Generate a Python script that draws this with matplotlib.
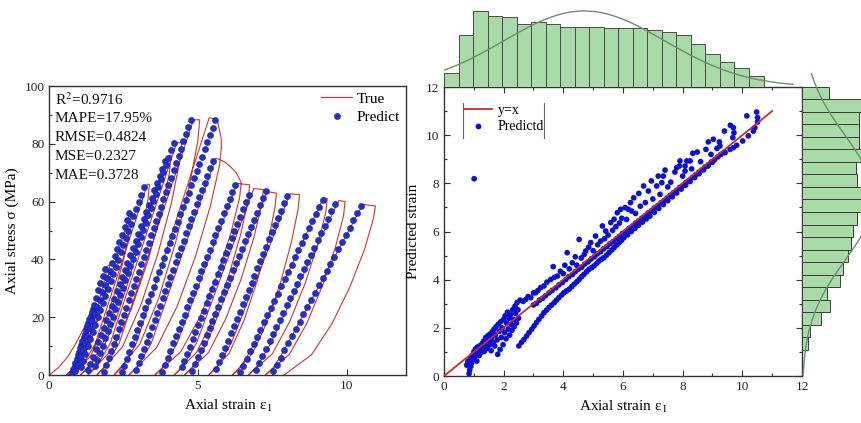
import matplotlib
matplotlib.use('Agg')
import matplotlib.pyplot as plt
from matplotlib.lines import Line2D
from matplotlib.ticker import MultipleLocator
import numpy as np

plt.rcParams['font.family'] = ['Liberation Serif', 'DejaVu Serif']
plt.rcParams['mathtext.fontset'] = 'stix'
plt.rcParams['font.size'] = 11

RED = '#c8372d'
BLUE = '#1f2fd0'
BLUE_EDGE = '#12128a'
GREEN = '#a9dba9'
SPINE = '#333333'

# ---------------- measured stress-strain path (cyclic loading), (strain, stress) ----------------
true_c01 = [(0, 0), (0.3, 2.5), (0.6, 6), (0.9, 11), (1.2, 17), (1.55, 24), (1.6, 24),
            (1.58, 22.1), (1.48, 17.8), (1.31, 12.5), (1.11, 7.2), (0.88, 2.9), (0.57, 0)]
true_c02 = [(0.82, 2.5), (1.07, 6.5), (1.32, 11), (1.98, 38), (2.03, 38),
            (2.0, 35), (1.86, 28.1), (1.64, 19.8), (1.36, 11.4), (1.05, 4.6), (0.63, 0)]
true_c03 = [(0.88, 2.5), (1.13, 6.5), (1.38, 11), (2.70, 55.4), (2.76, 55.2),
            (2.72, 50.8), (2.52, 40.8), (2.21, 28.7), (1.82, 16.6), (1.39, 6.6), (0.8, 0)]
true_c04 = [(1.05, 2.5), (1.3, 6.5), (1.55, 11), (3.3, 66), (3.37, 66),
            (3.32, 60.7), (3.09, 48.8), (2.72, 34.3), (2.26, 19.8), (1.75, 7.9), (1.05, 0)]
true_c05 = [(1.3, 2.5), (1.55, 6.5), (1.8, 11), (4.02, 76), (4.1, 76),
            (4.04, 69.9), (3.76, 56.2), (3.32, 39.5), (2.76, 22.8), (2.14, 9.1), (1.3, 0)]
true_c06 = [(1.55, 2.5), (1.8, 6.5), (2.05, 11), (4.28, 80.2), (4.45, 80.5),
            (4.39, 74.1), (4.11, 59.6), (3.65, 41.9), (3.08, 24.2), (2.46, 9.7), (1.6, 0)]
true_c07 = [(1.85, 2.5), (2.1, 6.5), (2.35, 11), (4.85, 88.3), (5.06, 88.3),
            (5.0, 81.2), (4.71, 65.3), (4.25, 45.9), (3.68, 26.5), (3.04, 10.6), (2.18, 0)]
true_c08 = [(2.43, 2.5), (2.68, 6.5), (2.93, 11), (5.38, 89), (5.5, 88.8), (5.67, 87.3),
            (5.78, 82), (5.79, 79),
            (5.73, 72.7), (5.42, 58.5), (4.92, 41.1), (4.30, 23.7), (3.61, 9.5), (2.68, 0)]
true_c09 = [(2.93, 2.5), (3.18, 6.5), (3.43, 11), (5.6, 75), (5.75, 74.5), (5.9, 73.7),
            (6.1, 72), (6.29, 70), (6.46, 66.5),
            (6.4, 61.2), (6.11, 49.2), (5.65, 34.6), (5.06, 20), (4.42, 8), (3.55, 0)]
true_c10 = [(3.8, 2.5), (4.05, 6.5), (4.3, 11), (6.32, 66.3), (6.74, 65.8),
            (6.69, 60.5), (6.44, 48.7), (6.03, 34.2), (5.52, 19.7), (4.96, 7.9), (4.2, 0)]
true_c11 = [(4.45, 2.5), (4.7, 6.5), (4.95, 11), (6.88, 64.5), (7.2, 64.2),
            (7.15, 59.1), (6.88, 47.5), (6.46, 33.4), (5.93, 19.3), (5.35, 7.7), (4.55, 0)]
true_c12 = [(4.8, 2.5), (5.05, 6.5), (5.3, 11), (7.33, 63.5), (7.64, 62.9),
            (7.59, 57.9), (7.37, 46.5), (7.0, 32.7), (6.55, 18.9), (6.05, 7.5), (5.37, 0)]
true_c13 = [(5.62, 2.5), (5.87, 6.5), (6.12, 11), (8.1, 62.7), (8.42, 62.4),
            (8.37, 57.4), (8.15, 46.2), (7.79, 32.4), (7.34, 18.7), (6.84, 7.5), (6.16, 0)]
true_c14 = [(6.41, 2.5), (6.66, 6.5), (6.91, 11), (9.22, 61.3), (9.35, 61.1),
            (9.3, 56.2), (9.03, 45.2), (8.61, 31.8), (8.08, 18.3), (7.5, 7.3), (6.7, 0)]
true_c15 = [(6.95, 2.5), (7.2, 6.5), (7.45, 11), (9.74, 60.4), (9.95, 60.0),
            (9.9, 55.2), (9.63, 44.4), (9.2, 31.2), (8.67, 18), (8.08, 7.2), (7.28, 0)]
true_c16 = [(7.53, 2.5), (7.78, 6.5), (8.03, 11), (10.55, 59.0), (10.97, 58.5),
            (10.91, 54.4), (10.6, 43.3), (10.11, 30.4), (9.5, 17.6), (8.82, 7), (7.9, 0)]

# ---------------- predicted strain on the reloading branches ----------------
# each cycle was sampled on the same stress steps, shifted by its own start offset (MPa)
stress_levels = [0.8, 3, 5.5, 8, 10.5, 13, 15.5, 18, 20.5, 23, 25.5, 28, 30.5, 33, 35.5, 38,
                 40.5, 43, 45.5, 48, 50.5, 53, 55.5, 58, 60.5, 63, 65.5, 68, 70.5, 73, 75.5,
                 78, 80.5, 83, 85.5, 88]
stress_offsets = [0.0, 1.3, 0.6, 1.9, 0.9, 2.2, 0.3, 0.1, 1.0, 0.4, 1.8, 0.7, 1.4, 0.2, 1.1, 0.5]
pred_c01 = [0.78, 0.85, 0.93, 1.01, 1.08, 1.16, 1.24, 1.31, 1.39, 1.47]
pred_c02 = [0.81, 0.88, 0.96, 1.03, 1.11, 1.19, 1.26, 1.34, 1.42, 1.49, 1.57, 1.64, 1.72,
            1.80, 1.87]
pred_c03 = [0.88, 0.95, 1.03, 1.12, 1.20, 1.28, 1.36, 1.45, 1.53, 1.61, 1.70, 1.78, 1.86,
            1.95, 2.03, 2.11, 2.20, 2.28, 2.36, 2.44, 2.53, 2.61, 2.69]
pred_c04 = [1.05, 1.12, 1.21, 1.29, 1.38, 1.47, 1.55, 1.64, 1.72, 1.81, 1.89, 1.98, 2.06,
            2.15, 2.24, 2.32, 2.41, 2.49, 2.58, 2.66, 2.75, 2.83, 2.92, 3.01, 3.09, 3.18]
pred_c05 = [1.30, 1.38, 1.47, 1.56, 1.65, 1.74, 1.83, 1.92, 2.01, 2.10, 2.19, 2.28, 2.37,
            2.46, 2.55, 2.63, 2.72, 2.81, 2.90, 2.99, 3.08, 3.17, 3.26, 3.35, 3.44, 3.53,
            3.62, 3.71, 3.80, 3.89]
pred_c06 = [1.55, 1.62, 1.71, 1.79, 1.88, 1.96, 2.05, 2.13, 2.22, 2.30, 2.39, 2.48, 2.56,
            2.65, 2.73, 2.82, 2.90, 2.99, 3.07, 3.16, 3.24, 3.33, 3.41, 3.50, 3.58, 3.67,
            3.76, 3.84, 3.93, 4.01, 4.10, 4.18]
pred_c07 = [1.85, 1.92, 2.00, 2.09, 2.17, 2.25, 2.34, 2.42, 2.51, 2.59, 2.67, 2.76, 2.84,
            2.92, 3.01, 3.09, 3.17, 3.26, 3.34, 3.43, 3.51, 3.59, 3.68, 3.76, 3.84, 3.93,
            4.01, 4.09, 4.18, 4.26, 4.35, 4.43, 4.51, 4.60, 4.68, 4.76]
pred_c08 = [2.43, 2.51, 2.60, 2.69, 2.78, 2.87, 2.96, 3.05, 3.14, 3.23, 3.33, 3.42, 3.51,
            3.60, 3.69, 3.78, 3.87, 3.96, 4.05, 4.14, 4.23, 4.32, 4.41, 4.51, 4.60, 4.69,
            4.78, 4.87, 4.96, 5.05, 5.14, 5.23, 5.32, 5.41, 5.50, 5.59]
pred_c09 = [2.93, 3.01, 3.10, 3.18, 3.27, 3.36, 3.45, 3.54, 3.63, 3.72, 3.81, 3.90, 3.98,
            4.07, 4.16, 4.25, 4.34, 4.43, 4.52, 4.61, 4.70, 4.78, 4.87, 4.96, 5.05, 5.14,
            5.23, 5.32, 5.41, 5.50]
pred_c10 = [3.80, 3.88, 3.98, 4.07, 4.17, 4.26, 4.36, 4.45, 4.55, 4.64, 4.74, 4.83, 4.93,
            5.02, 5.12, 5.21, 5.31, 5.40, 5.50, 5.59, 5.69, 5.78, 5.88, 5.97, 6.07, 6.16, 6.26]
pred_c11 = [4.45, 4.53, 4.63, 4.72, 4.82, 4.91, 5.01, 5.10, 5.19, 5.29, 5.38, 5.48, 5.57,
            5.67, 5.76, 5.86, 5.95, 6.04, 6.14, 6.23, 6.33, 6.42, 6.52, 6.61, 6.71]
pred_c12 = [4.80, 4.89, 4.99, 5.09, 5.19, 5.29, 5.39, 5.49, 5.59, 5.69, 5.79, 5.89, 5.99,
            6.09, 6.19, 6.29, 6.39, 6.49, 6.59, 6.69, 6.79, 6.89, 6.99, 7.09, 7.19, 7.29]
pred_c13 = [5.62, 5.71, 5.81, 5.91, 6.01, 6.11, 6.21, 6.31, 6.41, 6.51, 6.61, 6.71, 6.81,
            6.90, 7.00, 7.10, 7.20, 7.30, 7.40, 7.50, 7.60, 7.70, 7.80, 7.90, 8.00]
pred_c14 = [6.42, 6.52, 6.64, 6.75, 6.87, 6.99, 7.10, 7.22, 7.33, 7.45, 7.57, 7.68, 7.80,
            7.92, 8.03, 8.15, 8.27, 8.38, 8.50, 8.61, 8.73, 8.85, 8.96, 9.08, 9.20]
pred_c15 = [6.96, 7.06, 7.17, 7.29, 7.41, 7.52, 7.64, 7.75, 7.87, 7.99, 8.10, 8.22, 8.33,
            8.45, 8.57, 8.68, 8.80, 8.91, 9.03, 9.14, 9.26, 9.38, 9.49, 9.61]
pred_c16 = [7.54, 7.65, 7.78, 7.91, 8.04, 8.17, 8.30, 8.43, 8.55, 8.68, 8.81, 8.94, 9.07,
            9.20, 9.33, 9.46, 9.58, 9.71, 9.84, 9.97, 10.10, 10.23, 10.36, 10.48]

metrics = ['R$^2$=0.9716', 'MAPE=17.95%', 'RMSE=0.4824', 'MSE=0.2327', 'MAE=0.3728']

# ---------------- true vs predicted strain ----------------
pts_low_left = [(0.76, 0.45), (0.80, 0.60), (0.84, 0.10), (0.86, 0.25), (0.88, 0.72), (0.90, 0.40),
                (0.93, 0.55), (0.95, 0.85), (0.98, 0.68), (1.00, 1.00), (1.03, 0.80), (1.05, 1.12),
                (1.08, 0.95), (1.10, 0.62), (1.12, 1.20), (1.15, 1.05), (1.18, 0.85), (1.20, 1.25),
                (1.22, 1.10), (1.25, 0.98), (1.28, 1.35), (1.30, 1.18), (1.33, 1.45), (1.35, 1.02),
                (1.38, 1.30), (1.40, 1.60), (1.43, 1.40), (1.45, 1.15), (1.48, 1.68), (1.50, 1.50),
                (1.53, 1.30), (1.55, 1.75), (1.58, 1.05), (1.60, 1.60), (1.63, 1.85), (1.65, 1.40),
                (1.68, 1.95), (1.70, 1.25), (1.72, 1.70), (1.75, 2.05), (1.78, 1.50), (1.80, 0.90),
                (1.82, 2.15), (1.85, 1.85), (1.88, 1.10), (1.90, 2.25), (1.92, 1.60), (1.95, 2.00),
                (1.98, 1.30), (2.00, 2.35), (2.03, 1.80), (2.05, 2.50), (2.08, 1.55), (2.10, 2.20),
                (2.13, 2.65), (2.15, 1.95), (2.18, 2.40), (2.20, 1.70), (2.23, 2.55), (2.25, 2.15),
                (2.28, 1.90), (2.30, 2.75), (2.33, 2.35), (2.35, 2.05), (2.38, 2.90), (2.40, 2.60),
                (2.43, 2.20), (2.45, 3.05), (2.48, 2.75), (2.50, 2.40)]
pts_lower_band = [(2.51, 1.25), (2.60, 1.40), (2.68, 1.52), (2.77, 1.66), (2.85, 1.80), (2.94, 1.94),
                  (3.02, 2.08), (3.10, 2.22), (3.18, 2.35), (3.27, 2.49), (3.35, 2.63), (3.44, 2.74),
                  (3.52, 2.84), (3.60, 2.94), (3.69, 3.04), (3.77, 3.15), (3.85, 3.25), (3.94, 3.36),
                  (4.02, 3.46), (4.10, 3.53), (4.19, 3.60), (4.28, 3.71), (4.36, 3.81), (4.45, 3.91),
                  (4.53, 4.01), (4.61, 4.12), (4.69, 4.22), (4.78, 4.33), (4.86, 4.43), (4.95, 4.50),
                  (5.03, 4.57), (5.12, 4.68), (5.20, 4.78), (5.28, 4.85), (5.36, 4.91), (5.45, 5.02),
                  (5.53, 5.12), (5.62, 5.23), (5.70, 5.33), (5.79, 5.44), (5.87, 5.54), (5.95, 5.64),
                  (6.03, 5.74), (6.15, 5.86), (6.28, 6.00), (6.40, 6.13), (6.52, 6.26), (6.65, 6.39),
                  (6.78, 6.52), (6.90, 6.64), (7.05, 6.80), (7.20, 6.96), (7.35, 7.12), (7.50, 7.28),
                  (7.65, 7.44), (7.80, 7.60), (7.95, 7.76), (8.10, 7.92), (8.25, 8.08), (8.40, 8.24),
                  (8.55, 8.40), (8.70, 8.56), (8.85, 8.72), (9.00, 8.88)]
pts_on_line = [(3.00, 2.95), (3.10, 3.02), (3.20, 3.15), (3.30, 3.22), (3.40, 3.33), (3.52, 3.45),
               (3.62, 3.55), (3.75, 3.66), (3.85, 3.78), (3.97, 3.88), (4.08, 4.00), (4.18, 4.12),
               (4.30, 4.21), (4.40, 4.33), (4.50, 4.43), (4.62, 4.52), (4.72, 4.65), (4.83, 4.74),
               (4.93, 4.86), (5.04, 4.95), (5.14, 5.07), (5.25, 5.16), (5.35, 5.28), (5.46, 5.37),
               (5.56, 5.49), (5.67, 5.58), (5.78, 5.70), (5.88, 5.80), (5.98, 5.92), (6.10, 6.01),
               (6.20, 6.13), (6.31, 6.22), (6.42, 6.35), (6.52, 6.44), (6.63, 6.55), (6.74, 6.65),
               (6.84, 6.77), (6.95, 6.86), (7.05, 6.98), (7.16, 7.07), (7.27, 7.19), (7.37, 7.28),
               (7.48, 7.40), (7.58, 7.50), (7.69, 7.61), (7.80, 7.71), (7.90, 7.83), (8.01, 7.92),
               (8.11, 8.04), (8.22, 8.13), (8.33, 8.25), (8.43, 8.35), (8.54, 8.46), (8.65, 8.56),
               (8.75, 8.68), (8.86, 8.77), (8.96, 8.89), (9.07, 8.98), (9.18, 9.10), (9.28, 9.20),
               (9.40, 9.30)]
pts_upper_band = [(2.55, 3.15), (2.65, 3.10), (2.74, 3.18), (2.82, 3.30), (2.91, 3.25), (3.00, 3.45),
                  (3.07, 3.46), (3.15, 3.55), (3.24, 3.67), (3.35, 3.74), (3.45, 3.90), (3.58, 4.01),
                  (3.66, 4.54), (3.70, 4.10), (3.80, 4.15), (3.90, 4.35), (4.00, 4.25), (4.05, 4.60),
                  (4.13, 5.12), (4.20, 4.45), (4.30, 4.70), (4.40, 4.95), (4.45, 4.60), (4.53, 5.67),
                  (4.60, 4.90), (4.70, 5.05), (4.75, 5.19), (4.85, 5.35), (4.92, 5.54), (5.00, 5.20),
                  (5.08, 5.81), (5.15, 5.45), (5.25, 5.60), (5.31, 6.23), (5.38, 5.70), (5.42, 6.02),
                  (5.50, 5.85), (5.59, 6.37), (5.65, 6.05), (5.70, 6.51), (5.76, 6.20), (5.81, 6.78),
                  (5.88, 6.35), (5.92, 6.92), (5.96, 6.55), (6.07, 6.99), (6.12, 6.50), (6.18, 6.92),
                  (6.25, 7.20), (6.29, 6.85), (6.36, 7.40), (6.42, 6.75), (6.53, 7.58), (6.58, 7.05),
                  (6.69, 7.89), (6.75, 7.20), (6.85, 7.68), (6.95, 8.10), (7.00, 7.35), (7.13, 7.89),
                  (7.18, 8.30), (7.24, 7.54), (7.30, 8.03), (7.35, 8.30), (7.41, 8.55), (7.50, 7.85),
                  (7.60, 8.05), (7.74, 8.47), (7.80, 8.65), (7.89, 8.72), (7.91, 8.93), (8.00, 8.30),
                  (8.08, 8.51), (8.08, 8.72), (8.14, 8.93), (8.25, 8.93), (8.30, 8.60), (8.34, 9.25),
                  (8.49, 9.30), (8.60, 8.90), (8.78, 9.41), (8.86, 9.72), (8.95, 9.20), (9.03, 9.83),
                  (9.15, 9.45), (9.23, 9.72), (9.25, 9.55), (9.40, 10.17), (9.42, 9.27), (9.59, 9.41),
                  (9.60, 10.41), (9.68, 9.90), (9.70, 10.31), (9.72, 10.10), (9.70, 9.48), (9.81, 9.58),
                  (10.01, 9.76), (10.15, 10.80), (10.20, 9.97), (10.37, 10.17), (10.42, 10.31),
                  (10.48, 10.96), (10.51, 10.73), (10.51, 10.55)]
pt_outlier = [(1.01, 8.19)]

# marginal histograms (counts per bin) and their normal fits
true_hist_counts = [9, 33, 48, 45, 44, 40, 41, 40, 38, 38, 38, 37, 37, 37, 36, 35, 33, 27, 21,
                    16, 12, 7]
true_hist_range = (0.0, 10.71)
pred_hist_counts = [4, 5, 12, 18, 16, 24, 26, 29, 31, 32, 35, 38, 38, 35, 34, 39, 36, 36, 36,
                    40, 17]
pred_hist_range = (1.08, 12.02)
true_fit = dict(mu=4.7, sigma=2.7, peak=48.0)
pred_fit = dict(mu=7.4, sigma=2.56, peak=45.5)

W, H = 862, 423
fig = plt.figure(figsize=(W / 100, H / 100), dpi=100)


def px_axes(left, top, right, bottom):
    return fig.add_axes([left / W, (H - bottom) / H, (right - left) / W, (bottom - top) / H])


def style_spines(ax):
    for sp in ax.spines.values():
        sp.set_color(SPINE)
        sp.set_linewidth(1.0)


# ---------------- left: stress-strain ----------------
ax1 = px_axes(49.3, 86, 406, 375)
true_curve = (true_c01 + true_c02 + true_c03 + true_c04 + true_c05 + true_c06 + true_c07 +
              true_c08 + true_c09 + true_c10 + true_c11 + true_c12 + true_c13 + true_c14 +
              true_c15 + true_c16)
tx, ty = zip(*true_curve)
ax1.plot(tx, ty, color=RED, lw=0.8, zorder=2)

pred_cycles = [pred_c01, pred_c02, pred_c03, pred_c04, pred_c05, pred_c06, pred_c07, pred_c08,
               pred_c09, pred_c10, pred_c11, pred_c12, pred_c13, pred_c14, pred_c15, pred_c16]
for preds, off in zip(pred_cycles, stress_offsets):
    levels = np.array(stress_levels[:len(preds)]) + off
    ax1.scatter(preds, levels, s=20, color=BLUE, edgecolor=BLUE_EDGE, linewidth=0.3, zorder=3)

ax1.set_xlim(0, 12)
ax1.set_ylim(0, 100)
ax1.xaxis.set_major_locator(MultipleLocator(5))
ax1.xaxis.set_minor_locator(MultipleLocator(2.5))
ax1.yaxis.set_major_locator(MultipleLocator(20))
ax1.yaxis.set_minor_locator(MultipleLocator(10))
ax1.tick_params(which='both', direction='in', top=False, right=False, width=0.8,
                labelsize=9.5, colors=SPINE, labelcolor='#222222')
ax1.tick_params(which='major', length=4)
ax1.tick_params(which='minor', length=2.5)
ax1.set_xlabel('Axial strain ε$_1$', fontsize=11)
ax1.set_ylabel('Axial stress σ (MPa)', fontsize=11)
style_spines(ax1)

for i, txt in enumerate(metrics):
    ax1.text(0.016, 0.952 - i * 0.065, txt, transform=ax1.transAxes, va='center', ha='left',
             fontsize=11, color='#111111')

h_true = Line2D([], [], color=RED, lw=0.8)
h_pred = Line2D([], [], ls='none', marker='o', ms=4.5, mfc=BLUE, mec=BLUE_EDGE, mew=0.3)
ax1.legend([h_true, h_pred], ['True', 'Predict'], loc='upper right', frameon=False,
           fontsize=11, handlelength=2.0, handletextpad=0.3, labelspacing=0.3,
           borderaxespad=0.15, borderpad=0.25)

# ---------------- right: predicted vs true strain ----------------
ax2 = px_axes(444, 87, 802, 376)
scatter_pts = pts_low_left + pts_lower_band + pts_on_line + pts_upper_band + pt_outlier
sx, sy = zip(*scatter_pts)
ax2.scatter(sx, sy, s=17, color='#0a10d8', edgecolor='none', zorder=3)
ax2.plot([0, 11], [0, 11], color='#cc2a2a', lw=1.3, zorder=4)
ax2.set_xlim(0, 12)
ax2.set_ylim(0, 12)
for axis in (ax2.xaxis, ax2.yaxis):
    axis.set_major_locator(MultipleLocator(2))
    axis.set_minor_locator(MultipleLocator(1))
ax2.tick_params(which='both', direction='in', top=True, right=True, width=0.8,
                labelsize=9.5, colors=SPINE, labelcolor='#222222')
ax2.tick_params(which='major', length=4)
ax2.tick_params(which='minor', length=2.5)
ax2.set_xlabel('Axial strain ε$_1$', fontsize=11)
ax2.set_ylabel('Predicted strain', fontsize=11)
style_spines(ax2)

h_line = Line2D([], [], color='#cc2a2a', lw=1.3)
h_dot = Line2D([], [], ls='none', marker='o', ms=4.2, mfc='#0a10d8', mec='none')
ax2.legend([h_line, h_dot], ['y=x', 'Predictd'], loc='upper left', bbox_to_anchor=(0.03, 0.975),
           frameon=False, fontsize=10, handlelength=2.0, handletextpad=0.4,
           labelspacing=0.25, borderpad=0.2)
for xf in (0.052, 0.280):
    ax2.plot([xf, xf], [0.822, 0.944], transform=ax2.transAxes, color='#666666', lw=0.8,
             clip_on=False)

# top marginal histogram of the true strain
ax_top = px_axes(444, 10, 802, 87)
edges_t = np.linspace(*true_hist_range, len(true_hist_counts) + 1)
ax_top.bar(edges_t[:-1], true_hist_counts, width=np.diff(edges_t), align='edge', color=GREEN,
           edgecolor='#4a4a4a', linewidth=0.7)
xs = np.linspace(0, 11.7, 200)
ax_top.plot(xs, true_fit['peak'] * np.exp(-(xs - true_fit['mu']) ** 2 / (2 * true_fit['sigma'] ** 2)),
            color='#6d8f6d', lw=1.0)
ax_top.set_xlim(0, 12)
ax_top.set_ylim(0, 48.6)
ax_top.axis('off')

# right marginal histogram of the predicted strain
ax_rt = px_axes(802, 72.6, 881, 376)
edges_p = np.linspace(*pred_hist_range, len(pred_hist_counts) + 1)
ax_rt.barh(edges_p[:-1], pred_hist_counts, height=np.diff(edges_p), align='edge', color=GREEN,
           edgecolor='#3a3a3a', linewidth=0.7)
ys = np.linspace(0, 12.6, 200)
ax_rt.plot(pred_fit['peak'] * np.exp(-(ys - pred_fit['mu']) ** 2 / (2 * pred_fit['sigma'] ** 2)), ys,
           color='#6d8f6d', lw=1.0)
ax_rt.set_ylim(0, 12.6)
ax_rt.set_xlim(0, 50)
ax_rt.axis('off')

fig.savefig('out.png', dpi=100)
